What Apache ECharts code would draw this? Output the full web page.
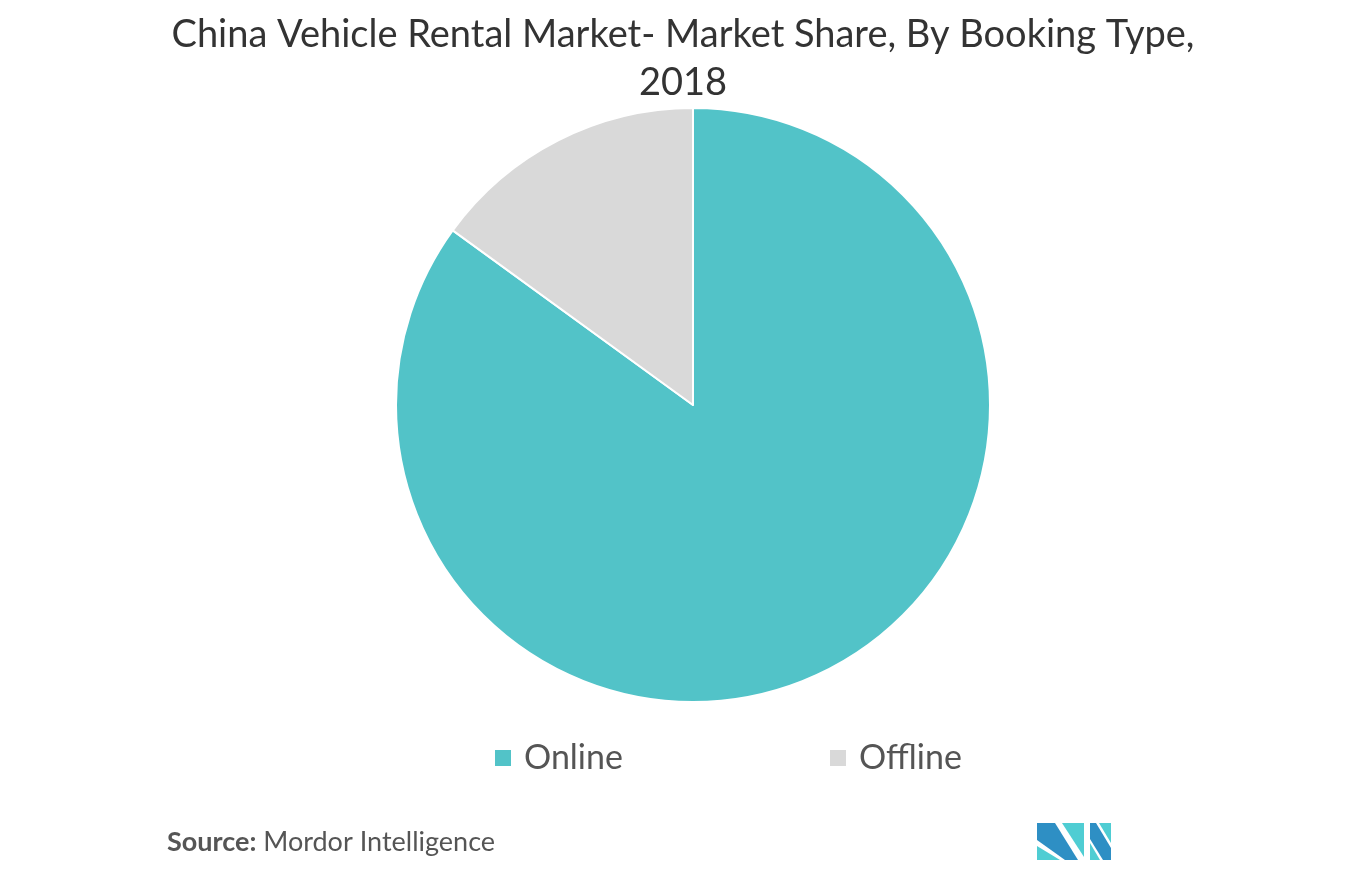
<!DOCTYPE html>
<html>
<head>
<meta charset="utf-8">
<script src="https://cdn.jsdelivr.net/npm/echarts@6/dist/echarts.min.js"></script>
<style>html,body{margin:0;padding:0;background:#fff;}#c{width:1366px;height:877px;}</style>
</head>
<body>
<div id="c"></div>
<script>
const categories = ['Online', 'Offline'];
const shares = [85, 15];
const colors = ['#52C3C8', '#D9D9D9'];
const titleText = 'China Vehicle Rental Market- Market Share, By Booking Type,\n2018';

const legendStyle = {
  top: 736,
  icon: 'rect',
  itemWidth: 18,
  itemHeight: 18,
  textStyle: { fontFamily: 'Lato', fontSize: 34, color: '#555', padding: [0, 0, 0, 7] }
};

const chart = echarts.init(document.getElementById('c'));
chart.setOption({
  backgroundColor: '#fff',
  animation: false,
  title: {
    text: titleText,
    left: 'center',
    top: 6,
    textStyle: { fontFamily: 'Lato', fontWeight: 'normal', fontSize: 38, color: '#333', lineHeight: 48 }
  },
  legend: [
    Object.assign({ data: [categories[0]], left: 488 }, legendStyle),
    Object.assign({ data: [categories[1]], left: 823 }, legendStyle)
  ],
  series: [{
    type: 'pie',
    center: [693, 405],
    radius: [0, 297],
    startAngle: 90,
    clockwise: true,
    label: { show: false },
    labelLine: { show: false },
    itemStyle: { borderColor: '#fff', borderWidth: 2 },
    emphasis: { disabled: true },
    data: categories.map((n, i) => ({ name: n, value: shares[i], itemStyle: { color: colors[i] } }))
  }],
  graphic: [
    { type: 'text', left: 167, top: 829, style: {
        text: '{b|Source:} Mordor Intelligence',
        font: '27px Lato', fill: '#555',
        rich: { b: { fontFamily: 'Lato', fontWeight: 'bold', fontSize: 27, fill: '#555' } }
      } },
    { type: 'polygon', shape: { points: [[1037,823],[1055,823],[1078,860],[1065,860],[1037,840]] }, style: { fill: '#2E8FC4' } },
    { type: 'polygon', shape: { points: [[1037,846],[1037,860],[1060,860]] }, style: { fill: '#4FCDD3' } },
    { type: 'polygon', shape: { points: [[1062,823],[1084,823],[1084,857]] }, style: { fill: '#4FCDD3' } },
    { type: 'polygon', shape: { points: [[1090,823],[1096,823],[1111,848],[1111,860],[1103,860],[1090,839]] }, style: { fill: '#2E8FC4' } },
    { type: 'polygon', shape: { points: [[1090,843],[1090,860],[1100,860]] }, style: { fill: '#4FCDD3' } },
    { type: 'polygon', shape: { points: [[1099,823],[1111,823],[1111,843]] }, style: { fill: '#4FCDD3' } }
  ]
});
</script>
</body>
</html>
